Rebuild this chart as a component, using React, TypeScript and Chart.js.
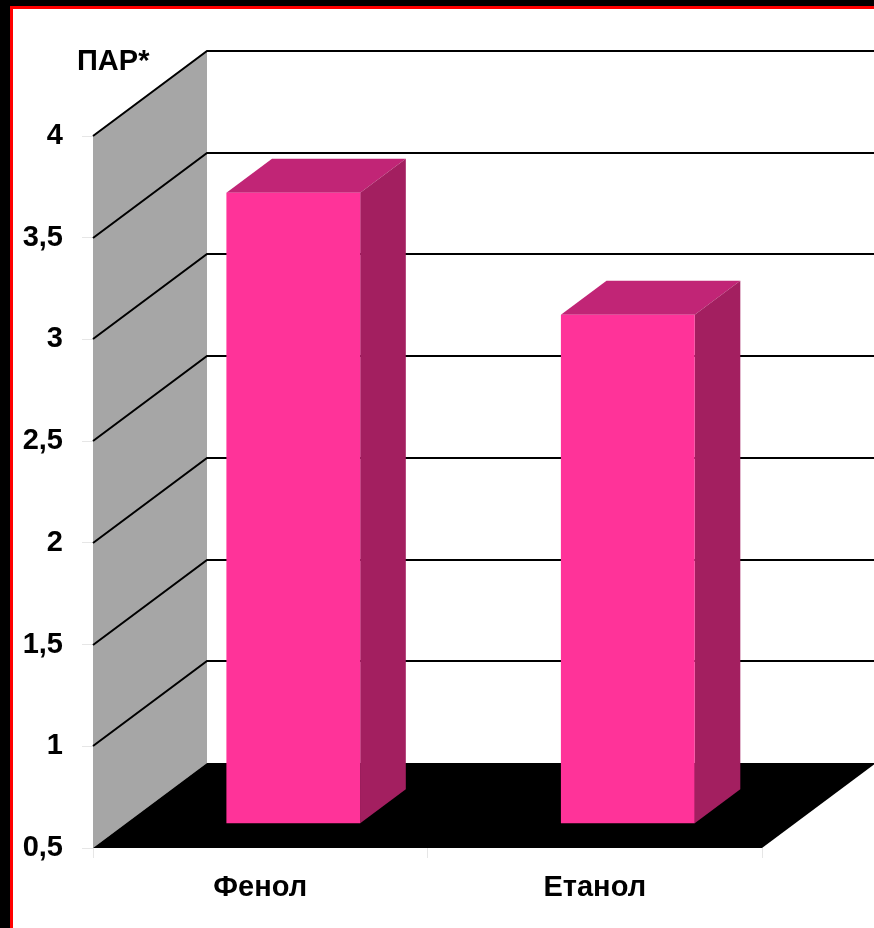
import { useEffect, useRef } from 'react';
import { Chart, registerables } from 'chart.js';

Chart.register(...registerables);

// Chart data
const CATEGORIES = ['Фенол', 'Етанол'];
const PAR_VALUES = [3.6, 3.0];
const Y_MIN = 0.5;
const Y_MAX = 4;
const Y_STEP = 0.5;
const Y_TITLE = 'ПАР*';

// Canvas size and pseudo-3D geometry
const W = 874;
const H = 928;
const DEPTH_X = 114;
const DEPTH_Y = -85;
const BAR_FRONT = 0.29;
const BAR_BACK = 0.69;
const FONT = '"Liberation Sans", Arial, Helvetica, sans-serif';
const FONT_SIZE = 29;

const COLORS = {
  frame: '#000000',
  border: '#ff0000',
  wall: '#a6a6a6',
  floor: '#000000',
  grid: '#000000',
  barFront: '#ff3399',
  barTop: '#c12576',
  barSide: '#a31f60',
};

function fillPoly(ctx: CanvasRenderingContext2D, pts: number[][], color: string) {
  ctx.beginPath();
  ctx.moveTo(pts[0][0], pts[0][1]);
  for (let i = 1; i < pts.length; i++) ctx.lineTo(pts[i][0], pts[i][1]);
  ctx.closePath();
  ctx.fillStyle = color;
  ctx.fill();
}

const scene3d = {
  id: 'scene3d',
  beforeDraw(chart: any) {
    const { ctx } = chart;
    ctx.save();
    ctx.fillStyle = COLORS.frame;
    ctx.fillRect(0, 0, W, H);
    ctx.fillStyle = '#ffffff';
    ctx.fillRect(10, 6, W, H);
    ctx.strokeStyle = COLORS.border;
    ctx.lineWidth = 3;
    ctx.strokeRect(11.5, 7.5, W + 20, H + 20);
    ctx.restore();
  },
  beforeDatasetsDraw(chart: any) {
    const { ctx, chartArea: a } = chart;
    const y = chart.scales.y;
    ctx.save();
    // left side wall
    fillPoly(ctx, [
      [a.left, a.top],
      [a.left + DEPTH_X, a.top + DEPTH_Y],
      [a.left + DEPTH_X, a.bottom + DEPTH_Y],
      [a.left, a.bottom],
    ], COLORS.wall);

    // grid lines across the side wall and the back wall
    ctx.strokeStyle = COLORS.grid;
    ctx.lineWidth = 2;
    for (let v = Y_MIN + Y_STEP; v <= Y_MAX + 1e-9; v += Y_STEP) {
      const py = Math.round(y.getPixelForValue(v));
      ctx.beginPath();
      ctx.moveTo(a.left, py);
      ctx.lineTo(a.left + DEPTH_X, py + DEPTH_Y);
      ctx.lineTo(a.right + DEPTH_X + 4, py + DEPTH_Y);
      ctx.stroke();
    }

    // floor
    fillPoly(ctx, [
      [a.left, a.bottom],
      [a.left + DEPTH_X, a.bottom + DEPTH_Y],
      [a.right + DEPTH_X, a.bottom + DEPTH_Y],
      [a.right, a.bottom],
    ], COLORS.floor);
    ctx.restore();
  },
  afterDatasetsDraw(chart: any) {
    const { ctx } = chart;
    const y = chart.scales.y;
    const meta = chart.getDatasetMeta(0);
    const fx = DEPTH_X * BAR_FRONT;
    const fy = DEPTH_Y * BAR_FRONT;
    const bx = DEPTH_X * BAR_BACK;
    const by = DEPTH_Y * BAR_BACK;
    const base = y.getPixelForValue(Y_MIN);
    ctx.save();
    meta.data.forEach((bar: any, i: number) => {
      const v = PAR_VALUES[i];
      const top = y.getPixelForValue(v);
      const x0 = bar.x - bar.width / 2;
      const x1 = bar.x + bar.width / 2;
      // top face
      fillPoly(ctx, [
        [x0 + fx, top + fy],
        [x0 + bx, top + by],
        [x1 + bx, top + by],
        [x1 + fx, top + fy],
      ], COLORS.barTop);
      // side face
      fillPoly(ctx, [
        [x1 + fx, top + fy],
        [x1 + bx, top + by],
        [x1 + bx, base + by],
        [x1 + fx, base + fy],
      ], COLORS.barSide);
      // front face
      fillPoly(ctx, [
        [x0 + fx, top + fy],
        [x1 + fx, top + fy],
        [x1 + fx, base + fy],
        [x0 + fx, base + fy],
      ], COLORS.barFront);
    });

    // axis title
    ctx.fillStyle = '#000';
    ctx.font = `bold ${FONT_SIZE}px ${FONT}`;
    ctx.textAlign = 'left';
    ctx.textBaseline = 'alphabetic';
    ctx.fillText(Y_TITLE, 77, 70);
    ctx.restore();
  },
};

export default function App() {
  const canvasRef = useRef<HTMLCanvasElement | null>(null);

  useEffect(() => {
    const canvas = canvasRef.current;
    if (!canvas) return;
    const chart = new Chart(canvas, {
      type: 'bar',
      data: {
        labels: CATEGORIES,
        datasets: [
          {
            label: Y_TITLE,
            data: PAR_VALUES,
            backgroundColor: 'rgba(0,0,0,0)',
            borderWidth: 0,
            categoryPercentage: 1,
            barPercentage: 0.4,
          },
        ],
      },
      options: {
        responsive: false,
        animation: false,
        devicePixelRatio: 1,
        layout: { padding: { left: 0, top: 136, right: 112, bottom: 0 } },
        plugins: {
          legend: { display: false },
          tooltip: { enabled: false },
          title: { display: false },
        },
        scales: {
          x: {
            grid: {
              drawOnChartArea: false,
              drawTicks: true,
              tickLength: 10,
              color: '#e6e6e6',
              offset: true,
            },
            border: { display: false },
            ticks: {
              color: '#000',
              padding: 13,
              font: { family: FONT, size: FONT_SIZE, weight: 'bold' },
            },
            afterFit: (s: any) => {
              s.height = 80;
            },
          },
          y: {
            min: Y_MIN,
            max: Y_MAX,
            grid: {
              drawOnChartArea: false,
              drawTicks: true,
              tickLength: 11,
              color: '#e6e6e6',
            },
            border: { display: false },
            ticks: {
              stepSize: Y_STEP,
              color: '#000',
              padding: 19,
              font: { family: FONT, size: FONT_SIZE, weight: 'bold' },
              callback: (v: any) => String(v).replace('.', ','),
            },
            afterFit: (s: any) => {
              s.width = 93;
            },
          },
        },
      },
      plugins: [scene3d],
    });
    return () => chart.destroy();
  }, []);

  return (
    <div style={{ position: 'fixed', left: 0, top: 0, width: W, height: H }}>
      <canvas ref={canvasRef} width={W} height={H} style={{ width: W, height: H, display: 'block' }} />
    </div>
  );
}
